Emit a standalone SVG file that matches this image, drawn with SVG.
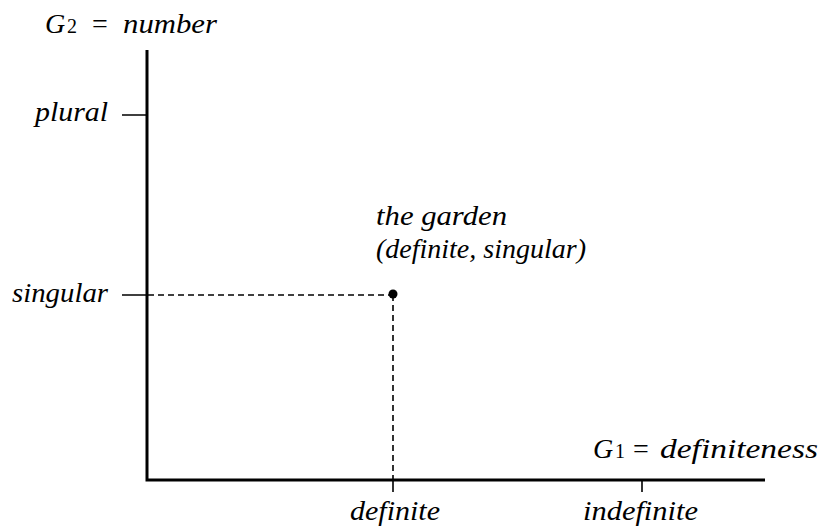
<svg xmlns="http://www.w3.org/2000/svg" width="823" height="527" viewBox="0 0 823 527">
<style>
text{font-family:"Liberation Serif","Times New Roman",serif;font-style:italic;font-size:28px;fill:#000}
.up{font-style:normal}
.sub{font-style:normal;font-size:20px}
.ax{stroke:#000;stroke-width:3;fill:none}
.tk{stroke:#000;stroke-width:1.6;fill:none}
.ds{stroke:#000;stroke-width:1.6;stroke-dasharray:6 4;fill:none}
</style>
<rect width="823" height="527" fill="#fff"/>
<g id="connectors">
<path class="ax" d="M147 50 V480 H765"/>
<path class="tk" d="M122 115 H147 M122 295 H147 M393 480 V492 M642 480 V492"/>
<path class="ds" d="M148 295 H393 M393 295 V480"/>
</g>
<g id="y-axis-label">
<text x="45" y="33">G</text><text class="sub" x="67" y="33">2</text><text class="up" x="92" y="33">=</text>
<text x="123" y="33" textLength="94" lengthAdjust="spacingAndGlyphs">number</text>
</g>
<g id="plural"><text x="35" y="121" textLength="73" lengthAdjust="spacingAndGlyphs">plural</text></g>
<g id="singular"><text x="12" y="302" textLength="96" lengthAdjust="spacingAndGlyphs">singular</text></g>
<g id="point">
<circle cx="393" cy="294" r="4.5" fill="#000"/>
<text x="376" y="225" textLength="131" lengthAdjust="spacingAndGlyphs">the garden</text>
<text x="376" y="258">(definite, singular)</text>
</g>
<g id="x-axis-label">
<text x="593" y="458">G</text><text class="sub" x="615" y="458">1</text><text class="up" x="633" y="458">=</text>
<text x="660" y="458" textLength="158" lengthAdjust="spacingAndGlyphs">definiteness</text>
</g>
<g id="definite"><text x="350" y="520" textLength="90" lengthAdjust="spacingAndGlyphs">definite</text></g>
<g id="indefinite"><text x="583" y="520" textLength="115" lengthAdjust="spacingAndGlyphs">indefinite</text></g>
</svg>
